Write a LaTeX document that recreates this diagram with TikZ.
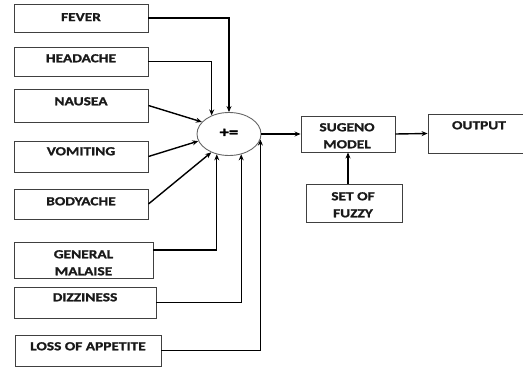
\documentclass[tikz,border=0pt]{standalone}
\usepackage{fontspec}
\setmainfont{Carlito}[FakeStretch=1.25,BoldFeatures={FakeBold=1.2}]
\usetikzlibrary{fit,shapes.geometric,arrows.meta}
\begin{document}
\begin{tikzpicture}[x=1pt,y=-1pt,
  box/.style={draw=black!75, line width=0.9pt, inner sep=0pt, rectangle},
  lbl/.style={anchor=north, inner sep=0pt, font=\fontsize{12.3}{17}\selectfont\bfseries, text=black!90, align=center},
  conn/.style={draw=black, line width=1.4pt, -{Stealth[length=6pt,width=5pt]}},
  ]
\useasboundingbox (0,0) rectangle (523,369);
\clip (0,0) rectangle (523,369);
% input boxes
\node[box, fit={(14,4) (148,32)}] (fever) {};
\node[box, fit={(14,47) (148,76)}] (headache) {};
\node[box, fit={(14,89) (148,122)}] (nausea) {};
\node[box, fit={(14,141) (148,172)}] (vomiting) {};
\node[box, fit={(14,189) (148,219)}] (bodyache) {};
\node[box, fit={(14,242) (153,278)}] (malaise) {};
\node[box, fit={(14,287) (156,318)}] (dizziness) {};
\node[box, fit={(15,335) (161,366)}] (loss) {};
% labels
\node[lbl] (feverT) at (81,13) {FEVER};
\node[lbl] (headacheT) at (81,54) {HEADACHE};
\node[lbl] (nauseaT) at (81,97) {NAUSEA};
\node[lbl] (vomitingT) at (81,147) {VOMITING};
\node[lbl] (bodyacheT) at (81,197) {BODYACHE};
\node[lbl] (malaiseT) at (83.5,250) {GENERAL\\MALAISE};
\node[lbl] (dizzinessT) at (85,293) {DIZZINESS};
\node[lbl] (lossT) at (88,342) {LOSS OF APPETITE};
% sum node
\node[draw=black!60, line width=0.9pt, ellipse, inner sep=0pt, minimum width=64pt, minimum height=43pt] (sum) at (229,134) {};
\node[inner sep=0pt, font=\fontsize{15}{17}\selectfont\bfseries] (sumT) at (229,133) {+=};
% right side boxes
\node[box, fit={(301,116) (395,152)}] (sugeno) {};
\node[lbl] (sugenoT) at (347,123) {SUGENO\\MODEL};
\node[box, fit={(428,114) (532,153)}] (output) {};
\node[lbl] (outputT) at (479,121) {OUTPUT};
\node[box, fit={(306,184) (402,222)}] (setfuzzy) {};
\node[lbl] (setfuzzyT) at (353,192) {SET OF\\FUZZY};
% connectors
\draw[conn] (fever.east) -| (sum.north);
\draw[conn] (headache.east) -| (sum.133);
\draw[conn] (nausea.east) -- (sum.156);
\draw[conn] (vomiting.east) -- (sum.193);
\draw[conn] (bodyache.east) -- (sum.226);
\draw[conn] ([yshift=10pt]malaise.east) -| (sum.239);
\draw[conn] (dizziness.east) -| (sum.301);
\draw[conn] (loss.east) -| (sum.350);
\draw[conn] (sum.east) -- (sugeno.west);
\draw[conn] (sugeno.east) -- (output.west);
\draw[conn] (sugeno.south |- setfuzzy.north) -- (sugeno.south);
\end{tikzpicture}
\end{document}
